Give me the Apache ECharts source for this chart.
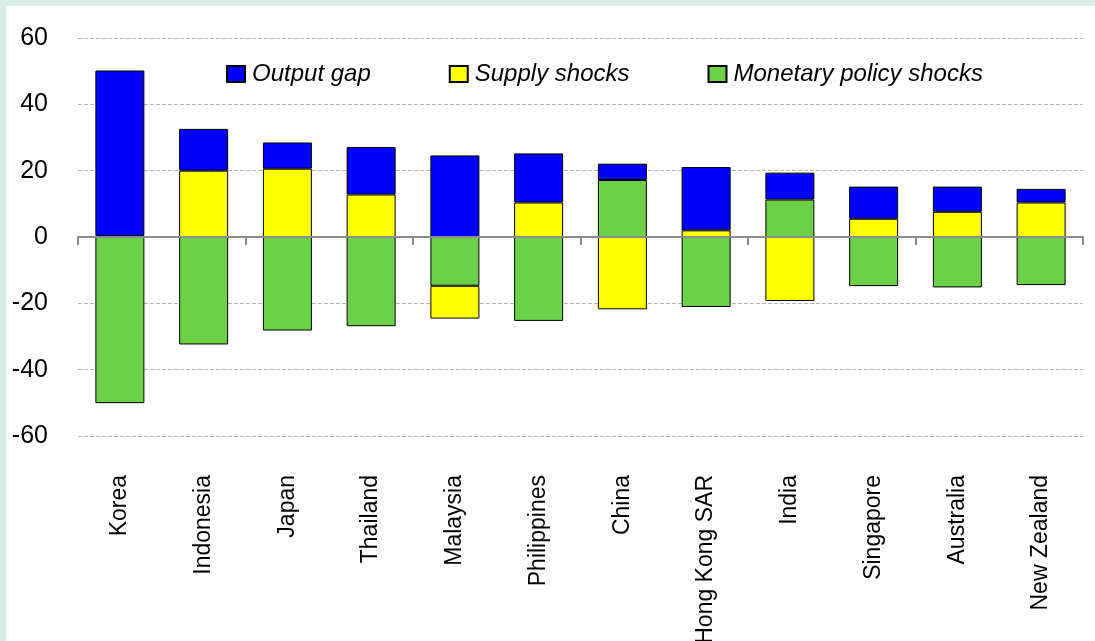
<!DOCTYPE html>
<html>
<head>
<meta charset="utf-8">
<script src="https://cdn.jsdelivr.net/npm/echarts@6/dist/echarts.min.js"></script>
<style>
  html, body { margin: 0; padding: 0; width: 1095px; height: 641px; background: #d8efe6; overflow: hidden; }
  #chart { position: absolute; left: 6px; top: 6px; width: 1089px; height: 635px; background: #ffffff; }
</style>
</head>
<body>
<div id="chart"></div>
<script>
const categories = ['Korea', 'Indonesia', 'Japan', 'Thailand', 'Malaysia', 'Philippines', 'China', 'Hong Kong SAR', 'India', 'Singapore', 'Australia', 'New Zealand'];
const outputGap = [49.9, 12.6, 7.9, 14.3, 24.6, 14.8, 4.9, 19.1, 8.1, 9.7, 7.6, 4.1];
const supplyShocks = [0.3, 20.0, 20.6, 12.8, -9.9, 10.4, -21.8, 2.0, -19.3, 5.5, 7.6, 10.4];
const monetaryShocks = [-50.1, -32.4, -28.2, -26.9, -14.7, -25.3, 17.2, -21.1, 11.3, -14.8, -15.2, -14.5];
const yTicks = { min: -60, max: 60, interval: 20 };
const seriesNames = ['Output gap', 'Supply shocks', 'Monetary policy shocks'];

const FONT = '"Liberation Sans Narrow", "Arial Narrow", "Liberation Sans", Arial, sans-serif';
const chart = echarts.init(document.getElementById('chart'), null, { renderer: 'canvas' });

function bar(name, data, color) {
  return {
    name: name,
    type: 'bar',
    stack: 'total',
    xAxisIndex: 0,
    barWidth: 49,
    data: data,
    itemStyle: { color: color, borderColor: '#000000', borderWidth: 1 },
    emphasis: { disabled: true }
  };
}

chart.setOption({
  animation: false,
  backgroundColor: '#ffffff',
  grid: { left: 72, right: 12, top: 32, bottom: 205, containLabel: false, outerBoundsMode: 'none' },
  legend: {
    data: seriesNames,
    left: 215,
    top: 51,
    itemWidth: 18,
    itemHeight: 16,
    itemGap: 78,
    textStyle: { fontFamily: FONT, fontSize: 24, fontStyle: 'italic', color: '#000', padding: [0, 0, 0, 2] },
    icon: 'rect'
  },
  xAxis: [
    {
      type: 'category',
      data: categories,
      position: 'bottom',
      z: 10,
      axisLine: { onZero: true, lineStyle: { color: '#8c8c8c', width: 2 } },
      axisTick: { show: true, length: 8, lineStyle: { color: '#8c8c8c', width: 2 } },
      axisLabel: { show: false },
      splitLine: { show: false }
    },
    {
      type: 'category',
      data: categories,
      position: 'bottom',
      axisLine: { show: false, onZero: false },
      axisTick: { show: false },
      axisLabel: { show: true, rotate: 90, interval: 0, margin: 39, fontFamily: FONT, fontSize: 23, color: '#000' },
      splitLine: { show: false }
    }
  ],
  yAxis: {
    type: 'value',
    min: yTicks.min,
    max: yTicks.max,
    interval: yTicks.interval,
    axisLine: { show: false },
    axisTick: { show: false },
    axisLabel: { margin: 30, fontFamily: FONT, fontSize: 25, color: '#000' },
    splitLine: { show: true, lineStyle: { type: [4, 2], color: '#b4b4b4', width: 1 } }
  },
  series: [
    bar('Monetary policy shocks', monetaryShocks, '#6cd146'),
    bar('Supply shocks', supplyShocks, '#ffff00'),
    bar('Output gap', outputGap, '#0000ff')
  ]
});
</script>
</body>
</html>
